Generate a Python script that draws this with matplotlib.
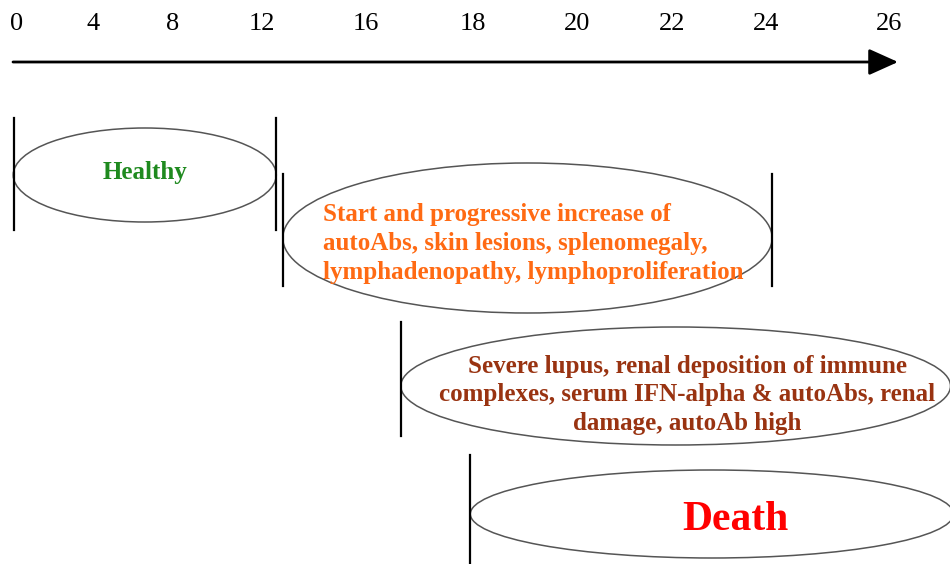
import numpy as np
import matplotlib
matplotlib.use("Agg")
import matplotlib.pyplot as plt
from matplotlib.patches import Ellipse

# ---- data ----
tick_weeks = [0, 4, 8, 12, 16, 18, 20, 22, 24, 26]
tick_labels = ["0", "4", "8", "12", "16", "18", "20", "22", "24", "26"]

stage_names = ["Healthy", "Progressive", "Severe", "Death"]
stage_start = [-0.2, 12.8, 16.65, 17.95]
stage_end = [12.55, 24.1, 27.0, 27.05]
stage_texts = [
    "Healthy",
    "Start and progressive increase of\nautoAbs, skin lesions, splenomegaly,\nlymphadenopathy, lymphoproliferation",
    "Severe lupus, renal deposition of immune\ncomplexes, serum IFN-alpha & autoAbs, renal\ndamage, autoAb high",
    "Death",
]

# ---- layout (non-linear timeline positions, in pixels) ----
tick_px = [17, 93, 173, 262, 366, 473, 577, 672, 766, 889]


def wx(week):
    w = float(week)
    if w < tick_weeks[0]:
        slope = (tick_px[1] - tick_px[0]) / (tick_weeks[1] - tick_weeks[0])
        return tick_px[0] + (w - tick_weeks[0]) * slope
    if w > tick_weeks[-1]:
        slope = (tick_px[-1] - tick_px[-2]) / (tick_weeks[-1] - tick_weeks[-2])
        return tick_px[-1] + (w - tick_weeks[-1]) * slope
    return float(np.interp(w, tick_weeks, tick_px))


ell_yc = [175, 238, 386, 514]
ell_h = [94, 150, 118, 88]
bar_y = [(118, 230), (174, 286), (322, 436), (455, 570)]
bar_dx = [1, 0, 0, 0]
text_colors = ["#1f8a1f", "#ff6a13", "#993311", "#ff0000"]
text_sizes = [18, 18, 18, 30]
text_pos = [(145, 173, "center"), (323, 243.5, "left"), (687, 395, "center"), (735, 520, "center")]

fig = plt.figure(figsize=(9.5, 5.64), dpi=100)
ax = fig.add_axes([0, 0, 1, 1])
ax.set_xlim(0, 950)
ax.set_ylim(564, 0)
ax.axis("off")

serif = ["Liberation Serif", "DejaVu Serif"]

for w, lab in zip(tick_weeks, tick_labels):
    ax.text(wx(w), 24, lab, ha="center", va="center", fontsize=19,
            family=serif, color="black")

ax.annotate("", xy=(898, 62), xytext=(13, 62),
            arrowprops=dict(arrowstyle="-|>,head_length=1.0,head_width=0.45",
                            lw=2, color="black", mutation_scale=18,
                            shrinkA=0, shrinkB=0))

for i in range(len(stage_names)):
    x0 = wx(stage_start[i])
    x1 = wx(stage_end[i])
    e = Ellipse(((x0 + x1) / 2, ell_yc[i]), x1 - x0, ell_h[i], fill=False,
                edgecolor="#555555", lw=1.1)
    ax.add_patch(e)
    bx = x0 + bar_dx[i]
    ax.plot([bx, bx], bar_y[i], color="black", lw=1.6)
    if i < 2:
        ax.plot([x1, x1], bar_y[i], color="black", lw=1.6)
    tx, ty, ha = text_pos[i]
    ax.text(tx, ty, stage_texts[i], ha=ha, va="center", multialignment=ha,
            fontsize=text_sizes[i], family=serif, fontweight="bold",
            color=text_colors[i], linespacing=1.33)

fig.savefig("out.png", dpi=100)
